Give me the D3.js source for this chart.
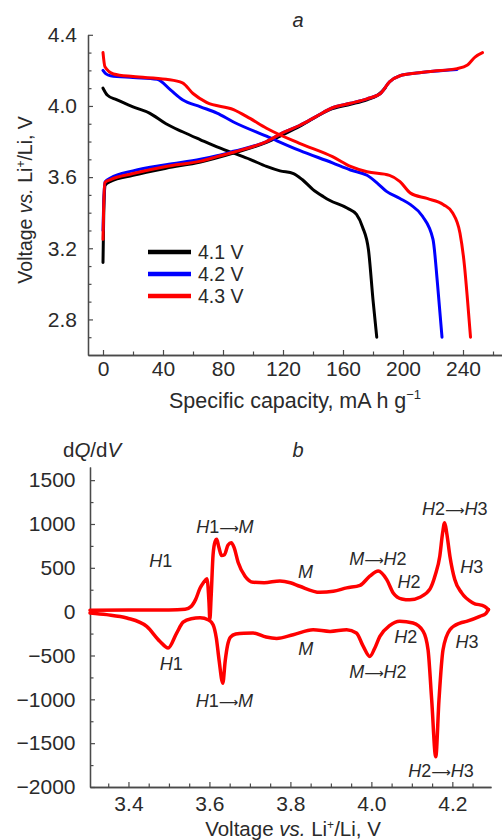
<!DOCTYPE html>
<html>
<head>
<meta charset="utf-8">
<script src="https://cdn.jsdelivr.net/npm/d3@7"></script>
<style>
  html, body { margin: 0; padding: 0; background: #fff; }
  svg { display: block; font-family: "Liberation Sans", Arial, sans-serif; }
</style>
</head>
<body>
<svg id="chart" width="502" height="840"></svg>
<script>
// ---------- Panel a data ----------
const seriesLabels = ["4.1 V", "4.2 V", "4.3 V"];
const seriesColors = ["#000000", "#0000ff", "#ff0000"];

const dis41Cap = [0, 3, 9, 20, 31, 42, 53, 65, 76, 87, 98, 109, 118, 127, 133, 140, 147, 151, 163, 169, 173, 177, 180, 182.5];
const dis41V   = [4.10, 4.06, 4.035, 3.995, 3.96, 3.90, 3.855, 3.81, 3.77, 3.735, 3.70, 3.66, 3.635, 3.62, 3.585, 3.53, 3.49, 3.47, 3.425, 3.39, 3.32, 3.19, 2.91, 2.70];
const chg41Cap = [0, 0.5, 1.5, 5, 20, 42, 65, 87, 109, 131, 153, 165, 176, 183, 188];
const chg41V   = [3.12, 3.40, 3.555, 3.575, 3.61, 3.65, 3.685, 3.735, 3.795, 3.885, 3.985, 4.01, 4.035, 4.06, 4.10];

const dis42Cap = [0, 2, 5, 20, 36, 45, 53, 65, 76, 87, 109, 131, 153, 165, 176, 183, 189, 198, 205, 213, 220, 223, 226];
const dis42V   = [4.20, 4.18, 4.17, 4.16, 4.15, 4.09, 4.035, 3.995, 3.96, 3.91, 3.83, 3.75, 3.68, 3.64, 3.61, 3.565, 3.52, 3.48, 3.445, 3.38, 3.25, 3.0, 2.70];
const chg42Cap = [0, 0.5, 1.5, 5, 20, 42, 65, 76, 87, 109, 120, 131, 142, 153, 165, 176, 185, 191, 198, 209, 220, 236];
const chg42V   = [3.30, 3.47, 3.575, 3.595, 3.635, 3.67, 3.70, 3.72, 3.745, 3.80, 3.85, 3.89, 3.94, 3.99, 4.015, 4.04, 4.07, 4.135, 4.17, 4.185, 4.195, 4.205];

const dis43Cap = [0, 1.3, 7, 20, 42, 53, 60, 69, 87, 98, 109, 131, 153, 165, 176, 191, 198, 205, 216, 227, 233, 238, 241, 243, 245];
const dis43V   = [4.30, 4.22, 4.18, 4.165, 4.15, 4.13, 4.07, 4.02, 3.98, 3.93, 3.875, 3.79, 3.715, 3.66, 3.63, 3.61, 3.575, 3.51, 3.48, 3.445, 3.40, 3.285, 3.10, 2.91, 2.70];
const chg43Cap = [0, 0.5, 1.3, 4.7, 20, 42, 65, 76, 87, 109, 120, 131, 142, 153, 165, 176, 185, 191, 198, 209, 220, 236, 243, 248, 253];
const chg43V   = [3.25, 3.45, 3.57, 3.585, 3.62, 3.66, 3.69, 3.715, 3.74, 3.80, 3.85, 3.89, 3.94, 3.99, 4.015, 4.04, 4.07, 4.135, 4.17, 4.185, 4.195, 4.21, 4.23, 4.275, 4.30];

const capTicksMajor = [0, 40, 80, 120, 160, 200, 240];
const capTicksMinor = [20, 60, 100, 140, 180, 220, 260];
const voltTicksMajorA = [2.8, 3.2, 3.6, 4.0, 4.4];
const voltTicksMinorA = [2.7, 2.9, 3.0, 3.1, 3.3, 3.4, 3.5, 3.7, 3.8, 3.9, 4.1, 4.2, 4.3];

// ---------- Panel b data ----------
const chgV = [3.305, 3.40, 3.50, 3.54, 3.555, 3.566, 3.577, 3.585, 3.590, 3.594, 3.599, 3.601, 3.604, 3.609, 3.614, 3.618, 3.623, 3.630, 3.637, 3.646, 3.654, 3.661, 3.671, 3.688, 3.708, 3.735, 3.774, 3.80, 3.823, 3.873, 3.906, 3.939, 3.972, 3.996, 4.017, 4.038, 4.054, 4.075, 4.095, 4.12, 4.145, 4.158, 4.169, 4.176, 4.181, 4.186, 4.194, 4.206, 4.223, 4.251, 4.280, 4.289];
const chgQ = [15, 18, 20, 28, 60, 140, 270, 330, 360, 375, 100, -90, 150, 650, 800, 825, 740, 640, 650, 760, 785, 730, 560, 404, 335, 330, 350, 330, 290, 221, 232, 271, 300, 404, 465, 366, 214, 145, 135, 165, 260, 420, 633, 900, 1015, 900, 633, 366, 214, 100, 60, 23];

const disV = [3.305, 3.346, 3.396, 3.445, 3.478, 3.498, 3.519, 3.535, 3.555, 3.577, 3.598, 3.609, 3.617, 3.624, 3.633, 3.639, 3.645, 3.652, 3.665, 3.685, 3.708, 3.74, 3.766, 3.807, 3.856, 3.898, 3.939, 3.963, 3.98, 3.996, 4.008, 4.021, 4.045, 4.070, 4.103, 4.128, 4.140, 4.149, 4.159, 4.167, 4.177, 4.194, 4.219, 4.235, 4.268, 4.283, 4.289];
const disQ = [-15, -34, -72, -168, -340, -415, -244, -120, -80, -70, -95, -149, -300, -560, -816, -560, -380, -290, -255, -245, -244, -290, -305, -263, -206, -225, -206, -244, -397, -511, -420, -282, -160, -110, -130, -225, -435, -1007, -1655, -1007, -435, -206, -130, -110, -53, -20, 23];

const dqTicksMajor = [-2000, -1500, -1000, -500, 0, 500, 1000, 1500];
const dqTicksMinor = [-1750, -1250, -750, -250, 250, 750, 1250];
const voltTicksMajorB = [3.4, 3.6, 3.8, 4.0, 4.2];
const voltTicksMinorB = [3.35, 3.45, 3.5, 3.55, 3.65, 3.7, 3.75, 3.85, 3.9, 3.95, 4.05, 4.1, 4.15, 4.25];

// annotations: [label parts, V, Q]  (parts: [text, style]) style: 1 italic, 0 upright, 2 arrow
const annotations = [
  [[["H", 1], ["1", 0]], 3.480, 510],
  [[["H", 1], ["1", 0], ["\u27F6", 2], ["M", 1]], 3.638, 898],
  [[["M", 1]], 3.837, 384],
  [[["M", 1], ["\u27F6", 2], ["H", 1], ["2", 0]], 4.016, 533],
  [[["H", 1], ["2", 0]], 4.093, 270],
  [[["H", 1], ["2", 0], ["\u27F6", 2], ["H", 1], ["3", 0]], 4.206, 1103],
  [[["H", 1], ["3", 0]], 4.248, 441],
  [[["H", 1], ["1", 0]], 3.506, -665],
  [[["H", 1], ["1", 0], ["\u27F6", 2], ["M", 1]], 3.637, -1087],
  [[["M", 1]], 3.838, -494],
  [[["M", 1], ["\u27F6", 2], ["H", 1], ["2", 0]], 4.016, -756],
  [[["H", 1], ["2", 0]], 4.085, -357],
  [[["H", 1], ["3", 0]], 4.236, -414],
  [[["H", 1], ["2", 0], ["\u27F6", 2], ["H", 1], ["3", 0]], 4.172, -1886]
];

// ---------- drawing ----------
const svg = d3.select("#chart");
const axisColor = "#4a4a4a";
const textColor = "#2a2a2a";

function styleAxis(g, fs) {
  g.select(".domain").attr("stroke", axisColor).attr("stroke-width", 1.3);
  g.selectAll(".tick line").attr("stroke", axisColor).attr("stroke-width", 1.2);
  g.selectAll(".tick text").attr("font-size", fs).attr("fill", textColor)
    .attr("font-family", "'Liberation Sans', Arial, sans-serif");
}

// Panel a
const xa = d3.scaleLinear().domain([-10, 266]).range([88, 502]);
const ya = d3.scaleLinear().domain([2.6, 4.4]).range([355, 34.8]);

svg.append("g").attr("transform", `translate(0,${ya(2.6)})`)
  .call(d3.axisBottom(xa).tickValues(capTicksMinor).tickFormat("").tickSizeInner(-3.5).tickSizeOuter(0))
  .call(g => styleAxis(g, 21));
svg.append("g").attr("transform", `translate(0,${ya(2.6)})`)
  .call(d3.axisBottom(xa).tickValues(capTicksMajor).tickFormat(d3.format("d")).tickSizeInner(-5).tickSizeOuter(0).tickPadding(6.5))
  .call(g => styleAxis(g, 21));
svg.append("g").attr("transform", `translate(${xa(-10)},0)`)
  .call(d3.axisLeft(ya).tickValues(voltTicksMinorA).tickFormat("").tickSizeInner(-3.5).tickSizeOuter(0))
  .call(g => styleAxis(g, 21));
svg.append("g").attr("transform", `translate(${xa(-10)},0)`)
  .call(d3.axisLeft(ya).tickValues(voltTicksMajorA).tickFormat(d3.format(".1f")).tickSizeInner(-5).tickSizeOuter(0).tickPadding(11))
  .call(g => styleAxis(g, 21));

const lineA = d3.line().x(d => xa(d[0])).y(d => ya(d[1])).curve(d3.curveMonotoneX);
const curvesA = [
  [dis41Cap, dis41V, 0], [chg41Cap, chg41V, 0],
  [dis42Cap, dis42V, 1], [chg42Cap, chg42V, 1],
  [dis43Cap, dis43V, 2], [chg43Cap, chg43V, 2]
];
curvesA.forEach(([c, v, k]) => {
  svg.append("path")
    .datum(d3.zip(c, v))
    .attr("d", lineA)
    .attr("fill", "none")
    .attr("stroke", seriesColors[k])
    .attr("stroke-width", 3)
    .attr("stroke-linecap", "round")
    .attr("stroke-linejoin", "round");
});

// Legend
const leg = svg.append("g").attr("transform", "translate(148,252)");
seriesLabels.forEach((lab, i) => {
  const gy = i * 22;
  leg.append("line").attr("x1", 0).attr("x2", 43).attr("y1", gy).attr("y2", gy)
    .attr("stroke", seriesColors[i]).attr("stroke-width", 4.5);
  leg.append("text").attr("x", 50).attr("y", gy + 7).attr("font-size", 19.5).attr("fill", textColor).text(lab);
});

// titles panel a
svg.append("text").attr("x", 298).attr("y", 27).attr("text-anchor", "middle")
  .attr("font-size", 20).attr("font-style", "italic").attr("fill", textColor).text("a");

const yTitleA = svg.append("text")
  .attr("transform", `translate(32,${(ya(2.6) + ya(4.4)) / 2 + 5}) rotate(-90)`)
  .attr("text-anchor", "middle").attr("font-size", 19.5).attr("fill", textColor);
yTitleA.append("tspan").text("Voltage ");
yTitleA.append("tspan").attr("font-style", "italic").text("vs.");
yTitleA.append("tspan").text(" Li");
yTitleA.append("tspan").attr("font-size", 12).attr("dy", -7).text("+");
yTitleA.append("tspan").attr("dy", 7).text("/Li, V");

const xTitleA = svg.append("text").attr("x", 295).attr("y", 408)
  .attr("text-anchor", "middle").attr("font-size", 21.5).attr("fill", textColor);
xTitleA.append("tspan").text("Specific capacity, mA h g");
xTitleA.append("tspan").attr("font-size", 13).attr("dy", -9).text("\u22121");

// Panel b
const xb = d3.scaleLinear().domain([3.305, 4.2955]).range([90, 491]);
const yb = d3.scaleLinear().domain([-2000, 1650]).range([787, 467]);

svg.append("g").attr("transform", `translate(0,${yb(-2000)})`)
  .call(d3.axisBottom(xb).tickValues(voltTicksMinorB).tickFormat("").tickSizeInner(-3.5).tickSizeOuter(0))
  .call(g => styleAxis(g, 21));
svg.append("g").attr("transform", `translate(0,${yb(-2000)})`)
  .call(d3.axisBottom(xb).tickValues(voltTicksMajorB).tickFormat(d3.format(".1f")).tickSizeInner(-5).tickSizeOuter(0).tickPadding(9.5))
  .call(g => styleAxis(g, 21));
svg.append("g").attr("transform", `translate(${xb(3.305)},0)`)
  .call(d3.axisLeft(yb).tickValues(dqTicksMinor).tickFormat("").tickSizeInner(-3.5).tickSizeOuter(0))
  .call(g => styleAxis(g, 21));
svg.append("g").attr("transform", `translate(${xb(3.305)},0)`)
  .call(d3.axisLeft(yb).tickValues(dqTicksMajor).tickFormat(d => d < 0 ? "\u2212" + Math.abs(d) : String(d)).tickSizeInner(-5).tickSizeOuter(0).tickPadding(14.5))
  .call(g => styleAxis(g, 21));

const lineB = d3.line().x(d => xb(d[0])).y(d => yb(d[1])).curve(d3.curveMonotoneX);
[[chgV, chgQ], [disV, disQ]].forEach(([v, q]) => {
  svg.append("path")
    .datum(d3.zip(v, q))
    .attr("d", lineB)
    .attr("fill", "none")
    .attr("stroke", "#ff0000")
    .attr("stroke-width", 3.5)
    .attr("stroke-linecap", "round")
    .attr("stroke-linejoin", "round");
});

annotations.forEach(([parts, v, q]) => {
  const t = svg.append("text").attr("x", xb(v)).attr("y", yb(q))
    .attr("text-anchor", "middle").attr("font-size", 18).attr("fill", textColor);
  parts.forEach(([s, st]) => {
    const ts = t.append("tspan").text(s);
    if (st === 1) ts.attr("font-style", "italic");
    if (st === 2) ts.attr("font-family", "'DejaVu Sans', sans-serif").attr("font-size", 13.5);
  });
});

svg.append("text").attr("x", 298).attr("y", 457).attr("text-anchor", "middle")
  .attr("font-size", 20).attr("font-style", "italic").attr("fill", textColor).text("b");

const dq = svg.append("text").attr("x", 63).attr("y", 457).attr("font-size", 20.5).attr("fill", textColor);
dq.append("tspan").text("d");
dq.append("tspan").attr("font-style", "italic").text("Q");
dq.append("tspan").text("/d");
dq.append("tspan").attr("font-style", "italic").text("V");

const xTitleB = svg.append("text").attr("x", 293).attr("y", 836)
  .attr("text-anchor", "middle").attr("font-size", 20.5).attr("fill", textColor);
xTitleB.append("tspan").text("Voltage ");
xTitleB.append("tspan").attr("font-style", "italic").text("vs.");
xTitleB.append("tspan").text(" Li");
xTitleB.append("tspan").attr("font-size", 12).attr("dy", -7).text("+");
xTitleB.append("tspan").attr("dy", 7).text("/Li, V");
</script>
</body>
</html>
